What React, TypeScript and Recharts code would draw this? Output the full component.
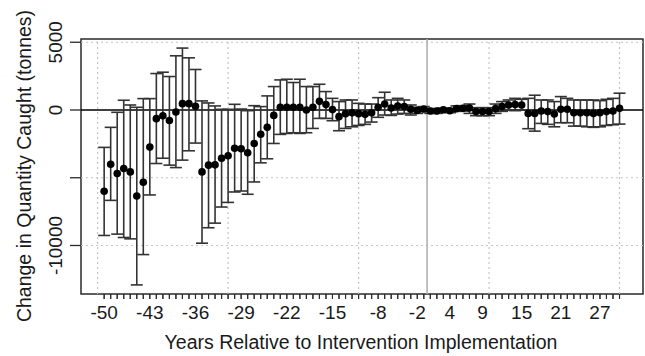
import React from "react";
import {
  ComposedChart,
  Scatter,
  ErrorBar,
  XAxis,
  YAxis,
  ReferenceLine,
  ReferenceArea,
} from "recharts";

// Years relative to intervention (no year 0)
const YEARS = [
  -50, -49, -48, -47, -46, -45, -44, -43, -42, -41, -40, -39, -38, -37, -36, -35, -34, -33, -32, -31,
  -30, -29, -28, -27, -26, -25, -24, -23, -22, -21, -20, -19, -18, -17, -16, -15, -14, -13, -12, -11,
  -10, -9, -8, -7, -6, -5, -4, -3, -2, -1, 1, 2, 3, 4, 5, 6, 7, 8, 9, 10,
  11, 12, 13, 14, 15, 16, 17, 18, 19, 20, 21, 22, 23, 24, 25, 26, 27, 28, 29, 30,
];

const MEAN = [
  -6000, -4000, -4690, -4320, -4570, -6350, -5330, -2740, -640, -420,
  -770, -150, 470, 470, 270, -4570, -4070, -4050, -3560, -3380,
  -2820, -2860, -3160, -2470, -1790, -1280, -400, 200, 200, 200,
  200, 0, 200, 640, 400, 30, -490, -270, -200, -270,
  -320, -200, 200, 440, 150, 300, 250, 50, -30, 70,
  -70, -70, 20, -50, 100, 120, 150, -120, -120, -120,
  100, 250, 370, 400, 370, -250, -250, -70, -120, -300,
  50, 50, -200, -200, -200, -250, -200, -120, -70, 120,
];

const UPPER = [
  -2760, -1280, -170, 720, 370, 200, 840, 840, 2690, 2790,
  2470, 4000, 4570, 3850, 2990, 670, 520, 300, 50, 50,
  420, 70, -50, 320, 250, 1040, 1730, 2220, 2270, 2030,
  2270, 1730, 1730, 1900, 1360, 860, 620, 740, 740, 490,
  440, 440, 910, 1310, 740, 860, 740, 370, 200, 250,
  100, 100, 150, 100, 300, 320, 440, 170, 170, 170,
  440, 620, 740, 860, 790, 860, 1090, 740, 740, 620,
  990, 860, 740, 740, 740, 740, 690, 790, 860, 1240,
];

const LOWER = [
  -9260, -6670, -9160, -9410, -9510, -12910, -10670, -6270, -3950, -3560,
  -4070, -4250, -3700, -3010, -2440, -9830, -8690, -8350, -7160, -6820,
  -6050, -5980, -6220, -5310, -3900, -3600, -2470, -1800, -1730, -1680,
  -1730, -1680, -1360, -620, -620, -790, -1530, -1360, -1240, -1140,
  -1060, -890, -540, -370, -400, -300, -250, -370, -250, -120,
  -250, -250, -150, -200, -100, -80, -250, -420, -420, -420,
  -250, -100, 0, -50, 0, -1380, -1560, -990, -1060, -1240,
  -940, -940, -1190, -1190, -1240, -1280, -1240, -1140, -1090, -1040,
];

const X_LABEL_YEARS = [-50, -43, -36, -29, -22, -15, -8, -2, 4, 9, 15, 21, 27];
const Y_TICKS = [5000, 0, -5000, -10000];
const Y_LABELED = [5000, 0, -10000];
const GRID_X = [0, 20, 40, 60, 80];
const GRID_Y = [5000, -5000, -10000];
const INTERVENTION_POS = 50.5;

const X_TITLE = "Years Relative to Intervention Implementation";
const Y_TITLE = "Change in Quantity Caught (tonnes)";

const FONT = "'Liberation Sans', Arial, Helvetica, sans-serif";
const TEXT_COLOR = "#1a1a1a";
const AXIS_COLOR = "#2a2a2a";

const X_DOMAIN: [number, number] = [-2.55, 83.6];
const Y_DOMAIN: [number, number] = [-13580, 5240];

const data = MEAN.map((m, i) => ({
  idx: i + 1,
  year: YEARS[i],
  mean: m,
  err: [m - LOWER[i], UPPER[i] - m],
}));

const XTick = (props: any) => {
  const { x, y, payload } = props;
  const yr = YEARS[payload.value - 1];
  const showLabel = X_LABEL_YEARS.includes(yr);
  return (
    <g>
      <path d={`M${x},${y - 5}L${x},${y}`} stroke={AXIS_COLOR} strokeWidth={1.1} fill="none" />
      {showLabel ? (
        <text
          x={x}
          y={y + 20}
          textAnchor="middle"
          fontFamily={FONT}
          fontSize={19}
          fill={TEXT_COLOR}
        >
          {String(yr)}
        </text>
      ) : null}
    </g>
  );
};

const YTick = (props: any) => {
  const { x, y, payload } = props;
  if (!Y_LABELED.includes(payload.value)) return <g />;
  const bx = x - 8;
  return (
    <text
      x={bx}
      y={y}
      transform={`rotate(-90, ${bx}, ${y})`}
      textAnchor="middle"
      fontFamily={FONT}
      fontSize={19}
      fill={TEXT_COLOR}
    >
      {String(payload.value)}
    </text>
  );
};

const Dot = (p: any) => <circle cx={p.cx} cy={p.cy} r={3.8} fill="#000" />;

export default function App() {
  return (
    <div style={{ position: "absolute", left: 0, top: 0, width: 645, height: 356, background: "#fff" }}>
      <ComposedChart
        width={645}
        height={356}
        data={data}
        margin={{ top: 39, right: 2, bottom: 0, left: 0 }}
      >
        <XAxis
          dataKey="idx"
          type="number"
          domain={X_DOMAIN}
          ticks={data.map((d) => d.idx)}
          interval={0}
          minTickGap={0}
          tick={<XTick />}
          tickSize={5}
          tickMargin={0}
          tickLine={{ stroke: AXIS_COLOR, strokeWidth: 1.1 }}
          axisLine={false}
          height={62}
        />
        <YAxis
          type="number"
          domain={Y_DOMAIN}
          ticks={Y_TICKS}
          interval={0}
          tick={<YTick />}
          tickSize={11}
          tickMargin={0}
          tickLine={{ stroke: AXIS_COLOR, strokeWidth: 1.3 }}
          axisLine={false}
          width={81}
        />
        {GRID_X.map((gx) => (
          <ReferenceLine
            key={`gx${gx}`}
            x={gx}
            stroke="#c4c4c4"
            strokeWidth={1.2}
            strokeDasharray="2 3"
          />
        ))}
        {GRID_Y.map((gy) => (
          <ReferenceLine
            key={`gy${gy}`}
            y={gy}
            stroke="#c4c4c4"
            strokeWidth={1.2}
            strokeDasharray="2 3"
          />
        ))}
        <ReferenceLine x={INTERVENTION_POS} stroke="#b0b0b0" strokeWidth={1.6} />
        <ReferenceLine y={0} stroke="#000" strokeWidth={1.4} />
        <ReferenceArea
          x1={X_DOMAIN[0]}
          x2={X_DOMAIN[1]}
          y1={Y_DOMAIN[0]}
          y2={Y_DOMAIN[1]}
          fill="none"
          fillOpacity={0}
          stroke={AXIS_COLOR}
          strokeWidth={1.5}
        />
        <Scatter dataKey="mean" isAnimationActive={false} shape={<Dot />}>
          <ErrorBar
            dataKey="err"
            direction="y"
            width={6}
            stroke="#333333"
            strokeWidth={1.6}
            isAnimationActive={false}
          />
        </Scatter>
        <text
          x={361}
          y={349}
          textAnchor="middle"
          fontFamily={FONT}
          fontSize={19.5}
          fill={TEXT_COLOR}
        >
          {X_TITLE}
        </text>
        <text
          x={31}
          y={166}
          transform="rotate(-90, 31, 166)"
          textAnchor="middle"
          fontFamily={FONT}
          fontSize={19.5}
          fill={TEXT_COLOR}
        >
          {Y_TITLE}
        </text>
      </ComposedChart>
    </div>
  );
}
